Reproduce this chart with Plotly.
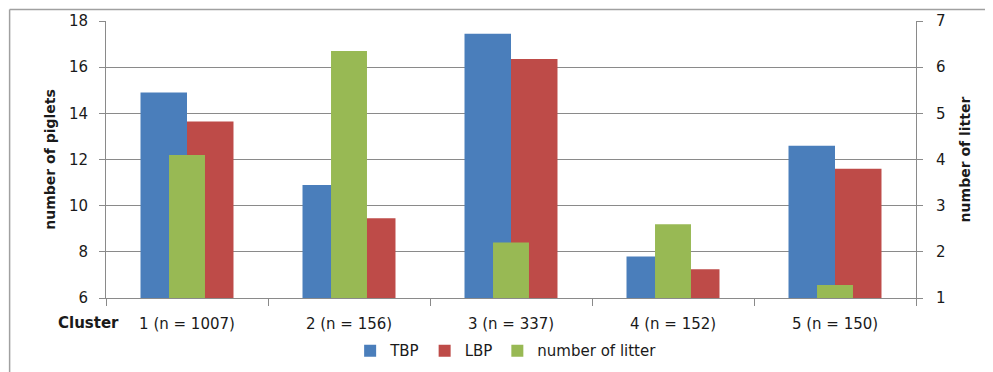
import plotly.graph_objects as go

categories = ["1 (n = 1007)", "2 (n = 156)", "3 (n = 337)", "4 (n = 152)", "5 (n = 150)"]
tbp = [14.9, 10.9, 17.45, 7.8, 12.6]
lbp = [13.65, 9.45, 16.35, 7.25, 11.6]
litter = [4.1, 6.35, 2.2, 2.6, 1.28]
left_ticks = [6, 8, 10, 12, 14, 16, 18]
right_ticks = [1, 2, 3, 4, 5, 6, 7]

FONT = "DejaVu Sans"
GRID = "#8a8a8a"

fig = go.Figure()
fig.add_trace(go.Bar(x=categories, y=tbp, name="TBP", marker=dict(color="#4A7EBB", line_width=0),
                     width=0.287, offset=-0.287, yaxis="y"))
fig.add_trace(go.Bar(x=categories, y=lbp, name="LBP", marker=dict(color="#BE4B48", line_width=0),
                     width=0.287, offset=0.0, yaxis="y"))
fig.add_trace(go.Bar(x=categories, y=litter, name="number of litter", marker=dict(color="#98B954", line_width=0),
                     width=0.222, offset=-0.111, yaxis="y2"))

# the page body has an 8px margin, so the figure is sized/placed to compensate
fig.update_layout(
    width=985, height=364,
    margin=dict(l=98, r=77, t=13, b=74),
    paper_bgcolor="white", plot_bgcolor="white",
    barmode="overlay",
    font=dict(family=FONT, size=15, color="#1a1a1a"),
    xaxis=dict(type="category", showline=True, linecolor=GRID, linewidth=1,
               ticks="outside", tickson="boundaries", ticklen=7, tickcolor=GRID,
               showgrid=False, tickfont=dict(size=15), range=[-0.5, 4.5],
               automargin=False, ticklabelstandoff=12),
    yaxis=dict(range=[6, 18], tickvals=left_ticks, showline=True, linecolor=GRID,
               ticks="outside", ticklen=6, tickcolor=GRID, gridcolor=GRID, gridwidth=1,
               zeroline=False, tickfont=dict(size=15), automargin=False, ticklabelstandoff=8,
               title=dict(text="<b>number of piglets</b>", font=dict(size=14), standoff=10)),
    yaxis2=dict(range=[1, 7], tickvals=right_ticks, overlaying="y", side="right",
                showline=True, linecolor=GRID, ticks="outside", ticklen=6, tickcolor=GRID,
                showgrid=False, zeroline=False, tickfont=dict(size=15), automargin=False,
                ticklabelstandoff=10,
                title=dict(text="<b>number of litter</b>", font=dict(size=14), standoff=15)),
    legend=dict(orientation="h", xref="paper", x=0.494, xanchor="center",
                yref="container", y=0.058, yanchor="middle",
                font=dict(size=15), traceorder="normal", itemwidth=30),
    showlegend=True,
)

fig.add_annotation(text="<b>Cluster</b>", xref="paper", yref="paper", x=-0.022, y=-0.092,
                   showarrow=False, font=dict(size=15), xanchor="center", yanchor="middle")

# outer chart frame (left and top edges)
fig.add_shape(type="line", xref="paper", yref="paper", x0=-0.119, x1=1.2, y0=1.0415, y1=1.0415,
              line=dict(color="#a0a0a0", width=1.5))
fig.add_shape(type="line", xref="paper", yref="paper", x0=-0.119, x1=-0.119, y0=1.0415, y1=-0.5,
              line=dict(color="#a0a0a0", width=1.5))

fig.write_html("out.html")
